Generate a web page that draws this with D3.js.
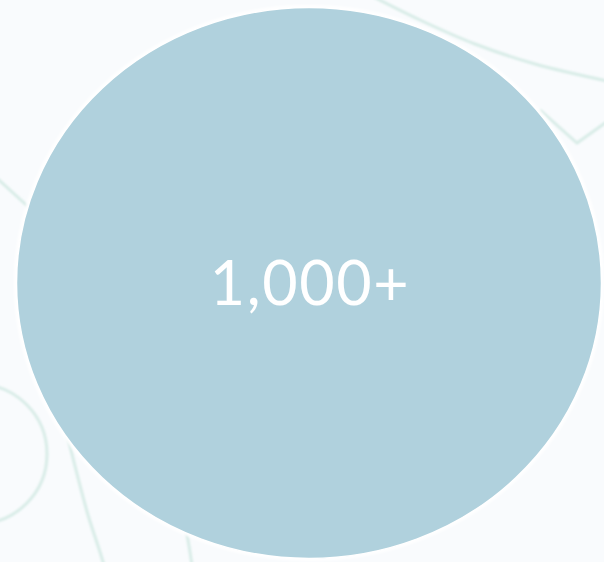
<!DOCTYPE html>
<html>
<head>
<meta charset="utf-8">
<script src="https://cdn.jsdelivr.net/npm/d3@7"></script>
<style>
  html, body { margin: 0; padding: 0; background: #f9fbfd; }
  svg { display: block; }
</style>
</head>
<body>
<div id="bubble"></div>
<script>
// node data
var nodeLabels = ["1,000+"];
var nodeValues = [1000];
var nodeX = [309];
var nodeY = [283];

// faint links to nodes outside the view (network coordinates)
var linkPaths = [
    [[368, -6], [420, 20], [475, 44], [535, 64], [612, 82]],
    [[540, 110], [577, 143], [612, 118]],
    [[-12, 170], [34, 212]],
    [[66, 430], [76, 470], [88, 515], [100, 552], [106, 572]],
    [[183, 515], [188, 540], [193, 572]]
];
var ringCenters = [[-23, 454]];
var ringRadii = [70];

function makeChart() {
    var svgWidth = 604;
    var svgHeight = 562;

    var svg = d3.select("#bubble")
        .append("svg")
        .attr("width", svgWidth)
        .attr("height", svgHeight);

    svg.append("rect")
        .attr("width", svgWidth)
        .attr("height", svgHeight)
        .attr("fill", "#f9fbfd");

    var defs = svg.append("defs");
    defs.append("filter")
        .attr("id", "soft")
        .append("feGaussianBlur")
        .attr("stdDeviation", 0.9);

    var xScale = d3.scaleLinear().domain([0, 604]).range([0, svgWidth]);
    var yScale = d3.scaleLinear().domain([0, 562]).range([0, svgHeight]);

    // bubble radius, stretched a little wider than tall
    var rxScale = d3.scaleSqrt().domain([0, d3.max(nodeValues)]).range([0, 292.5]);
    var ryScale = d3.scaleSqrt().domain([0, d3.max(nodeValues)]).range([0, 275.5]);

    var line = d3.line()
        .x(d => xScale(d[0]))
        .y(d => yScale(d[1]))
        .curve(d3.curveCatmullRom);

    var linkGroup = svg.append("g")
        .attr("fill", "none")
        .attr("stroke", "#d8ece7")
        .attr("stroke-width", 3)
        .attr("filter", "url(#soft)");

    linkGroup.selectAll("path")
        .data(linkPaths)
        .enter()
        .append("path")
        .attr("d", (d, i) => i == 1 ? d3.line().x(p => xScale(p[0])).y(p => yScale(p[1]))(d) : line(d));

    linkGroup.selectAll("circle")
        .data(ringCenters)
        .enter()
        .append("circle")
        .attr("cx", d => xScale(d[0]))
        .attr("cy", d => yScale(d[1]))
        .attr("r", (d, i) => ringRadii[i]);

    var nodes = nodeValues.map((v, i) => ({ value: v, label: nodeLabels[i], x: nodeX[i], y: nodeY[i] }));

    // white halo, then the bubble
    svg.selectAll("ellipse.halo")
        .data(nodes)
        .enter()
        .append("ellipse")
        .attr("class", "halo")
        .attr("cx", d => xScale(d.x))
        .attr("cy", d => yScale(d.y))
        .attr("rx", d => rxScale(d.value) + 1)
        .attr("ry", d => ryScale(d.value) + 1)
        .attr("fill", "none")
        .attr("stroke", "#ffffff")
        .attr("stroke-width", 3)
        .attr("filter", "url(#soft)");

    svg.selectAll("ellipse.node")
        .data(nodes)
        .enter()
        .append("ellipse")
        .attr("class", "node")
        .attr("cx", d => xScale(d.x))
        .attr("cy", d => yScale(d.y))
        .attr("rx", d => rxScale(d.value))
        .attr("ry", d => ryScale(d.value))
        .attr("fill", "#b0d1dd")
        .attr("stroke", "#ffffff")
        .attr("stroke-width", 1.5);

    svg.selectAll("text")
        .data(nodes)
        .enter()
        .append("text")
        .attr("x", d => xScale(d.x) + 1)
        .attr("y", d => yScale(d.y) + 22)
        .attr("text-anchor", "middle")
        .attr("fill", "#ffffff")
        .attr("font-family", "Lato, 'Open Sans', sans-serif")
        .attr("font-size", "61px")
        .attr("letter-spacing", "1.6px")
        .text(d => d.label);
}

makeChart();
</script>
</body>
</html>
